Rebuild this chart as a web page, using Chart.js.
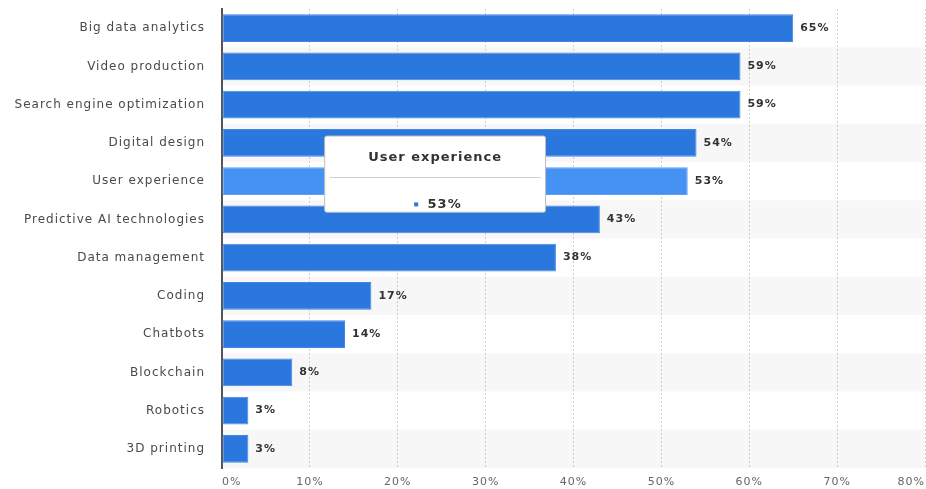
<!DOCTYPE html>
<html>
<head>
<meta charset="utf-8">
<script src="https://cdn.jsdelivr.net/npm/chart.js@4"></script>
<style>
  html, body { margin: 0; padding: 0; background: #fff; }
  #wrap { width: 926px; height: 489px; position: relative; }
</style>
</head>
<body>
<div id="wrap"><canvas id="skillsCanvas"></canvas></div>
<script>
const categories = [
    'Big data analytics',
    'Video production',
    'Search engine optimization',
    'Digital design',
    'User experience',
    'Predictive AI technologies',
    'Data management',
    'Coding',
    'Chatbots',
    'Blockchain',
    'Robotics',
    '3D printing'
];
const shares = [65, 59, 59, 54, 53, 43, 38, 17, 14, 8, 3, 3];
const tickValues = [0, 10, 20, 30, 40, 50, 60, 70, 80];
const highlighted = 'User experience';

const barBlue = '#2a77de';
const barHover = '#4592f3';

Chart.defaults.font.family = "'DejaVu Sans', Verdana, sans-serif";

// wider letter spacing for all canvas text (set before layout so measuring matches)
const spacing = {
    id: 'spacing',
    beforeUpdate(chart) { chart.ctx.letterSpacing = '1px'; }
};

// light grey band behind every other row
const rowBands = {
    id: 'rowBands',
    beforeDraw(chart) {
        const { ctx, chartArea, scales } = chart;
        const y = scales.y;
        const half = chartArea.height / categories.length / 2;
        ctx.save();
        ctx.fillStyle = '#f7f7f7';
        categories.forEach((c, i) => {
            if (i % 2 === 1) {
                const mid = y.getPixelForValue(i);
                ctx.fillRect(chartArea.left, mid - half, chartArea.right - chartArea.left, half * 2);
            }
        });
        ctx.restore();
    }
};

// value labels at the end of each bar
const valueLabels = {
    id: 'valueLabels',
    afterDatasetsDraw(chart) {
        const ctx = chart.ctx;
        const meta = chart.getDatasetMeta(0);
        ctx.save();
        ctx.font = "bold 11px 'DejaVu Sans'";
        ctx.fillStyle = '#333';
        ctx.textBaseline = 'middle';
        ctx.textAlign = 'left';
        meta.data.forEach((bar, i) => {
            ctx.fillText(shares[i] + '%', bar.x + 7, bar.y);
        });
        ctx.restore();
    },
    // thin rule between tooltip title and body
    afterTooltipDraw(chart, args) {
        const t = args.tooltip;
        const ctx = chart.ctx;
        const ry = Math.round(t.y + 41) + 0.5;
        ctx.save();
        ctx.strokeStyle = '#cfcfcf';
        ctx.lineWidth = 1;
        ctx.beginPath();
        ctx.moveTo(t.x + 5, ry);
        ctx.lineTo(t.x + t.width - 5, ry);
        ctx.stroke();
        ctx.restore();
    }
};

// put the tooltip over the middle of the bar
Chart.Tooltip.positioners.overBar = function (items) {
    if (!items.length) return false;
    const el = items[0].element;
    return { x: (el.base + el.x) / 2 - 20, y: el.y - 7 };
};

const ctx = document.getElementById('skillsCanvas').getContext('2d');
const chart = new Chart(ctx, {
    type: 'bar',
    data: {
        labels: categories,
        datasets: [{
            label: 'Share',
            data: shares,
            backgroundColor: barBlue,
            hoverBackgroundColor: barHover,
            borderColor: '#4585e2',
            hoverBorderColor: '#5c9df5',
            borderWidth: 1,
            borderSkipped: false,
            barPercentage: 0.73,
            categoryPercentage: 1
        }]
    },
    options: {
        indexAxis: 'y',
        responsive: true,
        maintainAspectRatio: false,
        animation: false,
        events: [],
        layout: { padding: { top: 9, right: 1, left: 0, bottom: 0 } },
        scales: {
            x: {
                min: tickValues[0],
                max: tickValues[tickValues.length - 1],
                afterBuildTicks: s => { s.ticks = tickValues.map(v => ({ value: v })); },
                afterFit: s => {
                    s.height = 21;
                    s.paddingLeft = 0;
                    s.paddingRight = 0;
                },
                grid: { color: '#cfcfcf', drawTicks: false },
                border: { display: false, dash: [2, 2] },
                ticks: {
                    align: 'inner',
                    padding: 8,
                    color: '#666',
                    font: { size: 11 },
                    callback: v => v + '%'
                }
            },
            y: {
                afterFit: s => {
                    s.width = 222;
                    s.paddingTop = 0;
                    s.paddingBottom = 0;
                },
                grid: { display: false, drawTicks: false },
                border: { display: true, color: '#555', width: 2 },
                ticks: {
                    padding: 17,
                    color: '#4a4a4a',
                    font: { size: 12 }
                }
            }
        },
        plugins: {
            legend: { display: false },
            tooltip: {
                position: 'overBar',
                xAlign: 'center',
                yAlign: 'center',
                caretSize: 0,
                caretPadding: 0,
                backgroundColor: '#fff',
                borderColor: '#bdbdbd',
                borderWidth: 1,
                cornerRadius: 2,
                padding: { top: 14, bottom: 0, left: 90, right: -3 },
                titleColor: '#333',
                titleFont: { size: 13, weight: 'bold' },
                titleAlign: 'center',
                titleMarginBottom: 31,
                bodyColor: '#333',
                bodyFont: { size: 13, weight: 'bold' },
                bodyAlign: 'center',
                boxWidth: 3,
                boxHeight: 3,
                boxPadding: 8,
                multiKeyBackground: barBlue,
                callbacks: {
                    label: c => c.parsed.x + '%',
                    labelColor: () => ({ borderColor: barBlue, backgroundColor: barBlue, borderWidth: 1 })
                }
            }
        }
    },
    plugins: [spacing, rowBands, valueLabels]
});

const active = [{ datasetIndex: 0, index: categories.indexOf(highlighted) }];
chart.tooltip.setActiveElements(active, { x: 0, y: 0 });
chart.setActiveElements(active);
chart.update();
</script>
</body>
</html>
